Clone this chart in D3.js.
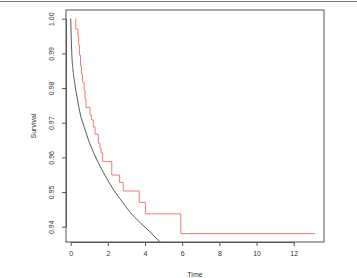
<!DOCTYPE html>
<html><head><meta charset="utf-8">
<script src="https://cdn.jsdelivr.net/npm/d3@7"></script>
<style>
html,body{margin:0;padding:0;background:#fff;}
svg{display:block;font-family:"Liberation Sans",Arial,sans-serif;}
</style></head>
<body>
<svg id="chart" width="357" height="278"></svg>
<script>
// ---- data ----
const xTicks = [0, 2, 4, 6, 8, 10, 12];
const yTicks = [0.94, 0.95, 0.96, 0.97, 0.98, 0.99, 1.00];
const xLabel = "Time";
const yLabel = "Survival";

// parametric (smooth) survival curve
const curveTime = [0, 0.032, 0.070, 0.124, 0.231, 0.366, 0.527, 0.743, 0.958, 1.254, 1.577, 1.954, 2.384, 2.761, 3.192, 3.730, 4.268, 4.844, 5.075];
const curveSurv = [1.0, 0.9939, 0.9887, 0.9852, 0.9809, 0.9766, 0.9722, 0.9685, 0.9650, 0.9611, 0.9575, 0.9538, 0.9500, 0.9473, 0.9442, 0.9412, 0.9385, 0.9354, 0.9343];

// Kaplan-Meier step curve: start, event times and survival after each drop, end
const kmStart = 0.26;
const kmEnd = 13.15;
const kmTime = [0.27, 0.39, 0.43, 0.47, 0.53, 0.58, 0.64, 0.72, 0.77, 0.82, 1.04, 1.12, 1.22, 1.31, 1.49, 1.57, 1.63, 1.72, 2.21, 2.63, 2.83, 3.69, 4.02, 5.92];
const kmSurv = [0.9970, 0.9947, 0.9924, 0.9895, 0.9864, 0.9840, 0.9817, 0.9794, 0.9771, 0.9744, 0.9722, 0.9708, 0.9688, 0.9667, 0.9641, 0.9627, 0.9613, 0.9588, 0.9549, 0.9528, 0.9503, 0.9470, 0.9437, 0.9380];

// ---- layout ----
const box = {left: 66, right: 324, top: 10, bottom: 242};
const x = d3.scaleLinear().domain([0, 12]).range([70.7, 293.7]);
const y = d3.scaleLinear().domain([0.94, 1.00]).range([226.7, 18.7]);

const svg = d3.select("#chart");

// top frame line of the figure
svg.append("line").attr("x1", 0).attr("x2", 357).attr("y1", 1.5).attr("y2", 1.5)
  .attr("stroke", "#777").attr("stroke-width", 1);

svg.append("clipPath").attr("id", "clip").append("rect")
  .attr("x", box.left).attr("y", box.top)
  .attr("width", box.right - box.left).attr("height", box.bottom - box.top);

const plot = svg.append("g").attr("clip-path", "url(#clip)");

// smooth curve
const curvePts = curveTime.map((t, i) => [t, curveSurv[i]]);
plot.append("path")
  .datum(curvePts)
  .attr("fill", "none")
  .attr("stroke", "#3a3a3a")
  .attr("stroke-width", 0.85)
  .attr("d", d3.line().x(d => x(d[0])).y(d => y(d[1])).curve(d3.curveMonotoneX));

// KM step curve
const kmPts = [[kmStart, 1.0]];
kmTime.forEach((t, i) => kmPts.push([t, kmSurv[i]]));
kmPts.push([kmEnd, kmSurv[kmSurv.length - 1]]);
plot.append("path")
  .datum(kmPts)
  .attr("fill", "none")
  .attr("stroke", "#f07a7a")
  .attr("stroke-width", 1)
  .attr("d", d3.line().x(d => x(d[0])).y(d => y(d[1])).curve(d3.curveStepAfter));

// box
svg.append("rect")
  .attr("x", box.left).attr("y", box.top)
  .attr("width", box.right - box.left).attr("height", box.bottom - box.top)
  .attr("fill", "none").attr("stroke", "#555").attr("stroke-width", 1);

// x axis
const xAxis = d3.axisBottom(x).tickValues(xTicks).tickSize(4).tickSizeOuter(0).tickPadding(5)
  .tickFormat(d3.format("d"));
const gx = svg.append("g").attr("transform", `translate(0,${box.bottom})`).call(xAxis);
gx.select(".domain").attr("stroke", "#555");
gx.selectAll(".tick line").attr("stroke", "#555");
gx.selectAll(".tick text").attr("font-size", 7).attr("fill", "#333")
  .attr("font-family", "Liberation Sans, Arial, sans-serif");

// y axis
const yAxis = d3.axisLeft(y).tickValues(yTicks).tickSize(4).tickSizeOuter(0).tickFormat(d3.format(".2f"));
const gy = svg.append("g").attr("transform", `translate(${box.left},0)`).call(yAxis);
gy.select(".domain").attr("stroke", "#555");
gy.selectAll(".tick line").attr("stroke", "#555");
gy.selectAll(".tick text")
  .attr("font-size", 7).attr("fill", "#333")
  .attr("font-family", "Liberation Sans, Arial, sans-serif")
  .attr("text-anchor", "middle")
  .attr("x", 0).attr("dy", 0)
  .attr("transform", "translate(-12,0) rotate(-90)");

// axis titles
svg.append("text").attr("x", (box.left + box.right) / 2).attr("y", 276.5)
  .attr("text-anchor", "middle").attr("font-size", 7).attr("fill", "#333").text(xLabel);
svg.append("text").attr("transform", `translate(35.5,${(box.top + box.bottom) / 2}) rotate(-90)`)
  .attr("text-anchor", "middle").attr("font-size", 7).attr("fill", "#333").text(yLabel);
</script>
</body></html>
